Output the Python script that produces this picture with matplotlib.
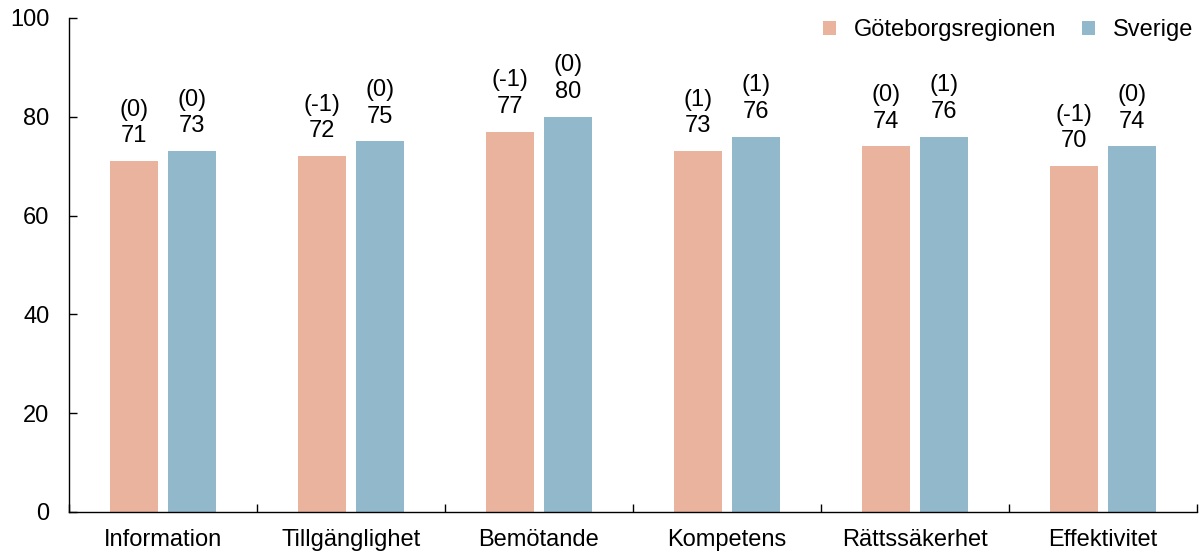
import matplotlib
matplotlib.use("Agg")
import matplotlib.pyplot as plt
import numpy as np

categories = ["Information", "Tillgänglighet", "Bemötande", "Kompetens", "Rättssäkerhet", "Effektivitet"]
gbg_values = [71, 72, 77, 73, 74, 70]
gbg_changes = ["(0)", "(-1)", "(-1)", "(1)", "(0)", "(-1)"]
swe_values = [73, 75, 80, 76, 76, 74]
swe_changes = ["(0)", "(0)", "(0)", "(1)", "(1)", "(0)"]
series_names = ["Göteborgsregionen", "Sverige"]
colors = ["#E9B39E", "#92B8CB"]

plt.rcParams['font.family'] = ['Liberation Sans', 'DejaVu Sans']
fig = plt.figure(figsize=(12.03, 5.54), dpi=100)
ax = fig.add_axes([69/1203, 1-512/554, (1197-69)/1203, (512-18)/554])

x = np.arange(len(categories))
w = 0.255
off = 0.154
b1 = ax.bar(x - off, gbg_values, w, color=colors[0], label=series_names[0])
b2 = ax.bar(x + off, swe_values, w, color=colors[1], label=series_names[1])

for bars, vals, chg in [(b1, gbg_values, gbg_changes), (b2, swe_values, swe_changes)]:
    for rect, v, c in zip(bars, vals, chg):
        ax.annotate(f"{c}\n{v}", (rect.get_x() + rect.get_width()/2, v),
                    xytext=(0, 10), textcoords="offset points",
                    ha="center", va="bottom", fontsize=17, linespacing=1.26)

ax.set_xlim(-0.5, len(categories) - 0.5)
ax.set_ylim(0, 100)
ax.set_yticks([0, 20, 40, 60, 80, 100])
ax.set_xticks(x)
ax.set_xticklabels(categories)
ax.set_xticks(np.arange(-0.5, len(categories)), minor=True)
ax.tick_params(axis='x', which='major', length=0, labelsize=17, pad=12)
ax.tick_params(axis='x', which='minor', length=6, direction='in', width=1)
ax.tick_params(axis='y', length=6, direction='in', labelsize=17, pad=14, width=1)
for s in ["top", "right"]:
    ax.spines[s].set_visible(False)
ax.spines["left"].set_linewidth(1)
ax.spines["bottom"].set_linewidth(1)

ax.legend(loc="upper right", bbox_to_anchor=(1.0156, 1.04), ncol=2, frameon=False, fontsize=17,
          handlelength=0.55, handleheight=0.55, handletextpad=0.75, columnspacing=1.1)

fig.savefig("out.png", dpi=100)
